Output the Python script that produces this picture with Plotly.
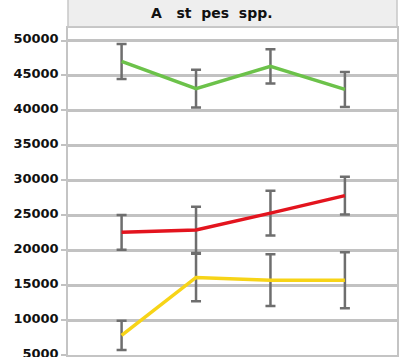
import plotly.graph_objects as go

# Sampling occasions (x positions) and mean abundances with error ranges
occasions = [0, 1, 2, 3]

green_mean = [47000, 43100, 46300, 43000]
green_err = [2500, 2700, 2450, 2500]

red_mean = [22550, 22900, 25300, 27800]
red_err = [2500, 3300, 3200, 2700]

yellow_mean = [7800, 16100, 15700, 15700]
yellow_err = [2100, 3400, 3700, 4000]

y_ticks = [5000, 10000, 15000, 20000, 25000, 30000, 35000, 40000, 45000, 50000]
panel_title = "A   st  pes  spp."

series = [
    (green_mean, green_err, "#6cc24a"),
    (red_mean, red_err, "#e3141e"),
    (yellow_mean, yellow_err, "#f7d417"),
]

fig = go.Figure()
for mean, err, color in series:
    fig.add_trace(go.Scatter(
        x=occasions, y=mean, mode="lines",
        line=dict(color=color, width=3.5),
        error_y=dict(type="data", array=err, visible=True,
                     color="#6e6e6e", thickness=2.5, width=5),
        showlegend=False,
    ))

fig.update_layout(
    width=400, height=357,
    margin=dict(l=68, r=3, t=28, b=2, autoexpand=False),
    paper_bgcolor="white", plot_bgcolor="white",
    font=dict(family="DejaVu Sans, sans-serif", size=14, color="#111111"),
    xaxis=dict(range=[-0.72, 3.70], showticklabels=False, showgrid=False,
               zeroline=False, showline=True, mirror=True, automargin=False,
               linecolor="#c4c4c4", linewidth=1.5, ticks=""),
    yaxis=dict(range=[5000, 51790], tickvals=y_ticks, tickformat="d",
               showgrid=True, gridcolor="#c2c2c2", gridwidth=2.5,
               zeroline=False, showline=True, mirror=True, automargin=False,
               linecolor="#c4c4c4", linewidth=1.5,
               ticks="outside", ticklen=5, tickcolor="#c2c2c2", tickwidth=2,
               ticklabelstandoff=0, ticklabeloverflow="allow",
               ticklabelshift=-2,
               tickfont=dict(family="DejaVu Sans, sans-serif", size=13,
                             color="#111111", weight="bold")),
    shapes=[dict(type="rect", xref="paper", yref="paper",
                 x0=0, x1=1, y0=1.0035, y1=1.09,
                 fillcolor="#eeeeee", line=dict(color="#c8c8c8", width=1.5))],
    annotations=[dict(text=panel_title, xref="paper", yref="paper",
                      x=0.439, y=1.045, xanchor="center", yanchor="middle",
                      showarrow=False,
                      font=dict(family="DejaVu Sans, sans-serif", size=14,
                                color="#111111", weight="bold"))],
)

fig.write_html("out.html")
